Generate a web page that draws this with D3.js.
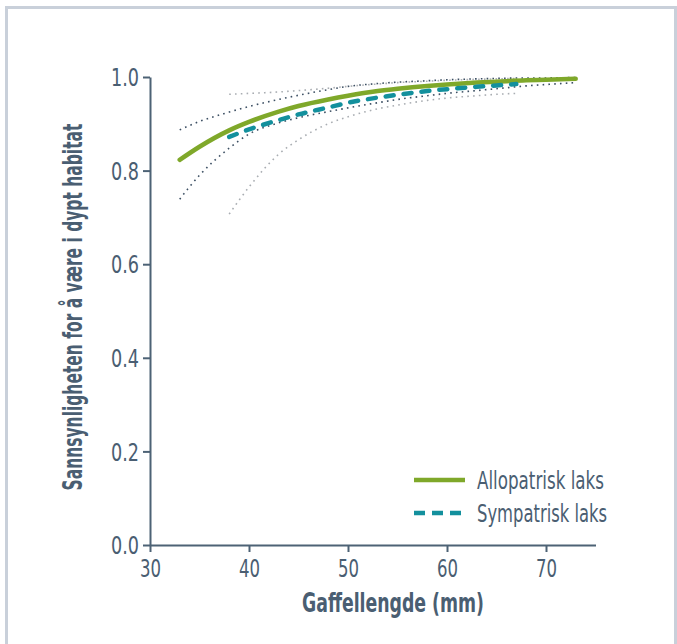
<!DOCTYPE html>
<meta charset="utf-8">
<script src="https://d3js.org/d3.v7.min.js"></script>
<style>
  body { margin: 0; background: #fff; }
  svg text { font-family: "Liberation Sans Narrow", "DejaVu Sans Condensed", sans-serif; fill: #4a5e72; }
</style>
<div id="chart"></div>
<script>

// values
var allo_x     = [33, 35, 38, 40, 43, 45, 48, 50, 53, 55, 58, 60, 63, 65, 68, 70, 73];
var allo_fit   = [0.823, 0.851, 0.886, 0.904, 0.926, 0.938, 0.952, 0.960, 0.970, 0.975, 0.981, 0.984, 0.988, 0.990, 0.993, 0.994, 0.996];
var allo_upper = [0.887, 0.905, 0.925, 0.937, 0.952, 0.961, 0.973, 0.980, 0.986, 0.989, 0.992, 0.994, 0.996, 0.997, 0.998, 0.998, 0.999];
var allo_lower = [0.739, 0.790, 0.848, 0.878, 0.902, 0.913, 0.926, 0.934, 0.945, 0.952, 0.960, 0.965, 0.971, 0.975, 0.981, 0.984, 0.988];

var sym_x      = [38, 40, 43, 45, 48, 50, 53, 55, 58, 60, 63, 65, 67];
var sym_fit    = [0.872, 0.888, 0.908, 0.920, 0.935, 0.945, 0.956, 0.962, 0.970, 0.974, 0.979, 0.982, 0.985];
var sym_upper  = [0.963, 0.965, 0.968, 0.971, 0.976, 0.980, 0.985, 0.988, 0.991, 0.993, 0.995, 0.996, 0.997];
var sym_lower  = [0.707, 0.765, 0.835, 0.866, 0.900, 0.915, 0.932, 0.940, 0.950, 0.955, 0.960, 0.963, 0.965];

var xTicks = [30, 40, 50, 60, 70];
var yTicks = [0, 0.2, 0.4, 0.6, 0.8, 1.0];
var legendNames = ["Allopatrisk laks", "Sympatrisk laks"];

var W = 677, H = 644;
var axisColor = "#4d6275";
var green = "#7fa82a", teal = "#13909d";

var svg = d3.select("#chart").append("svg")
    .attr("width", W)
    .attr("height", H);

// frame round the figure
svg.append("rect")
    .attr("x", 6.5).attr("y", 7.5)
    .attr("width", 669).attr("height", 700)
    .attr("fill", "#fff")
    .attr("stroke", "#c9d0da")
    .attr("stroke-width", 3);

var x = d3.scaleLinear().domain([30, 75]).range([150, 595.5]);
var y = d3.scaleLinear().domain([0, 1]).range([545, 77]);

// the original type is a condensed face: squeeze the fallback font to the same width
function squeezeTo(sel, w) {
  sel.attr("lengthAdjust", "spacingAndGlyphs").attr("textLength", w);
}

// axes
var xAxis = svg.append("g")
    .attr("transform", "translate(0,545)")
    .call(d3.axisBottom(x).tickValues(xTicks).tickSize(7).tickSizeOuter(0).tickFormat(d3.format("d")));
var yAxis = svg.append("g")
    .attr("transform", "translate(150,0)")
    .call(d3.axisLeft(y).tickValues(yTicks).tickSize(7).tickSizeOuter(0).tickFormat(d3.format(".1f")));

[xAxis, yAxis].forEach(function(g) {
  g.selectAll("path, line").attr("stroke", axisColor).attr("stroke-width", 2);
  g.selectAll("text").style("font-size", "24px").attr("fill", axisColor);
});
xAxis.selectAll("text").attr("dy", "0.93em").call(squeezeTo, 21);
yAxis.selectAll("text").attr("x", -11).attr("dy", "0.36em").call(squeezeTo, 28);

// axis titles
svg.append("text")
    .attr("x", 393).attr("y", 612)
    .attr("text-anchor", "middle")
    .style("font-size", "26px").style("font-weight", "bold")
    .call(squeezeTo, 182)
    .text("Gaffellengde (mm)");

// y title: squeezed with a scale so its box stays true
var yTitle = svg.append("text")
    .attr("text-anchor", "middle")
    .style("font-size", "26px").style("font-weight", "bold")
    .text("Sannsynligheten for å være i dypt habitat");
var natural = yTitle.node().getComputedTextLength();
yTitle.attr("transform", "translate(82,307) rotate(-90) scale(" + (367 / natural) + ",1)");

function series(xs, ys) {
  return xs.map(function(d, i) { return [d, ys[i]]; });
}
var line = d3.line()
    .x(function(d) { return x(d[0]); })
    .y(function(d) { return y(d[1]); })
    .curve(d3.curveMonotoneX);

// confidence limits (dotted)
var bands = [
  {data: series(sym_x, sym_upper),   color: "#a9adb2"},
  {data: series(sym_x, sym_lower),   color: "#a9adb2"},
  {data: series(allo_x, allo_upper), color: "#3c4f63"},
  {data: series(allo_x, allo_lower), color: "#3c4f63"}
];
svg.selectAll("path.band").data(bands).enter()
  .append("path")
    .attr("class", "band")
    .attr("d", function(d) { return line(d.data); })
    .attr("fill", "none")
    .attr("stroke", function(d) { return d.color; })
    .attr("stroke-width", 1.6)
    .attr("stroke-dasharray", "1.6,4.2");

// fitted curves
svg.append("path")
    .attr("d", line(series(allo_x, allo_fit)))
    .attr("fill", "none")
    .attr("stroke", green)
    .attr("stroke-width", 4.5)
    .attr("stroke-linecap", "round");

svg.append("path")
    .attr("d", line(series(sym_x, sym_fit)))
    .attr("fill", "none")
    .attr("stroke", teal)
    .attr("stroke-width", 4.5)
    .attr("stroke-linecap", "round")
    .attr("stroke-dasharray", "8,10");

// legend
var legend = svg.selectAll("g.legend").data(legendNames).enter()
  .append("g")
    .attr("class", "legend")
    .attr("transform", function(d, i) { return "translate(414," + (480 + i * 33) + ")"; });
legend.append("line")
    .attr("x1", 0).attr("x2", 51)
    .attr("stroke", function(d, i) { return i == 0 ? green : teal; })
    .attr("stroke-width", 4.5)
    .attr("stroke-dasharray", function(d, i) { return i == 0 ? null : "11,7"; });
legend.append("text")
    .attr("x", 63).attr("y", 8.5)
    .style("font-size", "24px")
    .attr("lengthAdjust", "spacingAndGlyphs")
    .attr("textLength", function(d, i) { return i == 0 ? 127 : 130; })
    .text(function(d) { return d; });

</script>
